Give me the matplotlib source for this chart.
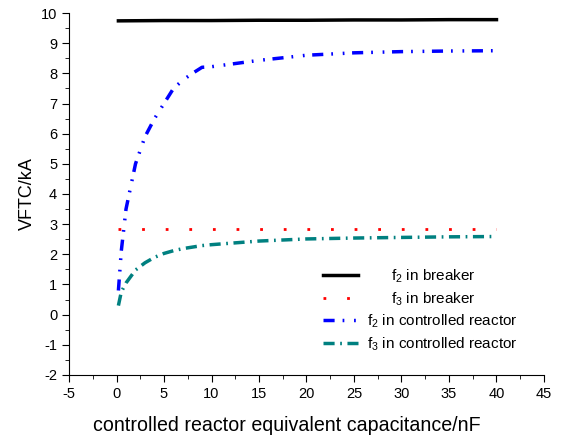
import matplotlib
matplotlib.use('Agg')
import matplotlib.pyplot as plt

plt.rcParams['font.family'] = ['Liberation Sans', 'DejaVu Sans']
plt.rcParams['mathtext.fontset'] = 'custom'
plt.rcParams['mathtext.rm'] = 'Liberation Sans'
plt.rcParams['mathtext.it'] = 'Liberation Sans'
plt.rcParams['axes.unicode_minus'] = False

# data
x_breaker = [0.2, 5, 10, 15, 20, 25, 30, 35, 40]
f2_breaker = [9.74, 9.75, 9.75, 9.76, 9.76, 9.77, 9.77, 9.78, 9.78]
f3_breaker = [2.83, 2.83, 2.83, 2.83, 2.83, 2.83, 2.83, 2.83, 2.83]

x_reactor = [0.2, 0.5, 1, 2, 3, 4, 5, 6, 7, 8, 9, 10, 15, 20, 25, 30, 35, 40]
f2_reactor = [0.8, 2.1, 3.5, 5.0, 5.9, 6.5, 7.0, 7.5, 7.78, 8.0, 8.2, 8.22,
              8.43, 8.6, 8.68, 8.72, 8.74, 8.75]
f3_reactor = [0.3, 0.75, 1.05, 1.48, 1.72, 1.9, 2.03, 2.12, 2.19, 2.24, 2.29, 2.32,
              2.44, 2.51, 2.54, 2.56, 2.58, 2.59]

labels = ['f$_2$ in breaker', 'f$_3$ in breaker',
          'f$_2$ in controlled reactor', 'f$_3$ in controlled reactor']

fig = plt.figure(figsize=(5.68, 4.41), dpi=100)
ax = fig.add_axes([0.1215, 0.1497, 0.8362, 0.8208])

ax.plot(x_breaker, f2_breaker, color='black', lw=2.5, label=labels[0])
ax.plot(x_breaker, f3_breaker, color='red', lw=2, dashes=(1, 7.5), label=labels[1])
ax.plot(x_reactor, f2_reactor, color='blue', lw=2.5,
        dashes=(3.2, 2.3, 0.5, 2.8, 0.5, 2.2), label=labels[2])
ax.plot(x_reactor, f3_reactor, color='#008080', lw=2.5,
        dashes=(3.2, 1.6, 0.5, 1.6), label=labels[3])

ax.set_xlim(-5, 45)
ax.set_ylim(-2, 10)
ax.set_xticks(range(-5, 46, 5))
ax.set_yticks(range(-2, 11, 1))
ax.set_xticks([x + 2.5 for x in range(-5, 45, 5)], minor=True)
ax.set_yticks([y + 0.5 for y in range(-2, 10)], minor=True)
ax.spines['top'].set_visible(False)
ax.spines['right'].set_visible(False)
ax.tick_params(which='both', direction='out', labelsize=10.5)
ax.tick_params(which='major', length=5)
ax.tick_params(which='minor', length=3)

ax.set_xlabel('controlled reactor equivalent capacitance/nF', fontsize=14.1)
ax.xaxis.set_label_coords(0.458, -0.113)
ax.set_ylabel('VFTC/kA', fontsize=13, labelpad=3.5)

leg = ax.legend(loc='upper left', bbox_to_anchor=(0.535, 0.296), frameon=False,
                fontsize=11, borderpad=0, borderaxespad=0, handlelength=2.3,
                handletextpad=0.6, labelspacing=0.33)

# centre legend labels like the original
fig.canvas.draw()
renderer = fig.canvas.get_renderer()
widths = [t.get_window_extent(renderer).width for t in leg.get_texts()]
maxw = max(widths)
for t, w in zip(leg.get_texts(), widths):
    t.set_position(((maxw - w) / 2 * 72 / fig.dpi, 0))

fig.savefig('out.png', dpi=100)
